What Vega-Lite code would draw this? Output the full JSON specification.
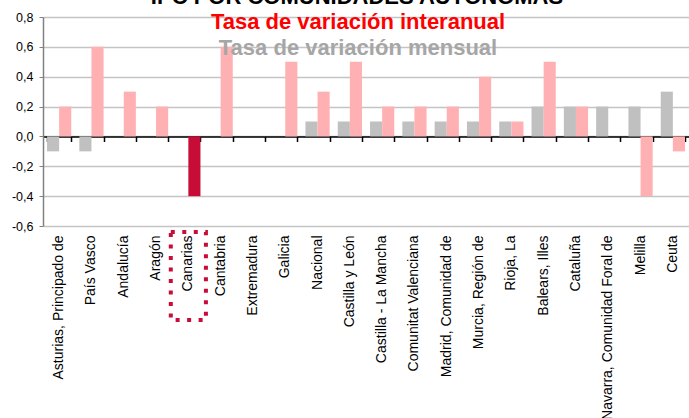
{
  "$schema": "https://vega.github.io/schema/vega-lite/v6.json",
  "width": 646,
  "height": 209,
  "autosize": "none",
  "padding": {"left": 43, "top": 17, "right": 0, "bottom": 192},
  "config": {"font": "Liberation Sans", "view": {"stroke": null}},
  "layer": [
    {
      "data": {"values": [
        {"region": "Asturias, Principado de", "serie": "Tasa de variación mensual", "valor": -0.1},
        {"region": "Asturias, Principado de", "serie": "Tasa de variación interanual", "valor": 0.2},
        {"region": "País Vasco", "serie": "Tasa de variación mensual", "valor": -0.1},
        {"region": "País Vasco", "serie": "Tasa de variación interanual", "valor": 0.6},
        {"region": "Andalucía", "serie": "Tasa de variación mensual", "valor": 0},
        {"region": "Andalucía", "serie": "Tasa de variación interanual", "valor": 0.3},
        {"region": "Aragón", "serie": "Tasa de variación mensual", "valor": 0},
        {"region": "Aragón", "serie": "Tasa de variación interanual", "valor": 0.2},
        {"region": "Canarias", "serie": "Tasa de variación mensual", "valor": 0},
        {"region": "Canarias", "serie": "Tasa de variación interanual", "valor": -0.4},
        {"region": "Cantabria", "serie": "Tasa de variación mensual", "valor": 0},
        {"region": "Cantabria", "serie": "Tasa de variación interanual", "valor": 0.6},
        {"region": "Extremadura", "serie": "Tasa de variación mensual", "valor": 0},
        {"region": "Extremadura", "serie": "Tasa de variación interanual", "valor": 0},
        {"region": "Galicia", "serie": "Tasa de variación mensual", "valor": 0},
        {"region": "Galicia", "serie": "Tasa de variación interanual", "valor": 0.5},
        {"region": "Nacional", "serie": "Tasa de variación mensual", "valor": 0.1},
        {"region": "Nacional", "serie": "Tasa de variación interanual", "valor": 0.3},
        {"region": "Castilla y León", "serie": "Tasa de variación mensual", "valor": 0.1},
        {"region": "Castilla y León", "serie": "Tasa de variación interanual", "valor": 0.5},
        {"region": "Castilla - La Mancha", "serie": "Tasa de variación mensual", "valor": 0.1},
        {"region": "Castilla - La Mancha", "serie": "Tasa de variación interanual", "valor": 0.2},
        {"region": "Comunitat Valenciana", "serie": "Tasa de variación mensual", "valor": 0.1},
        {"region": "Comunitat Valenciana", "serie": "Tasa de variación interanual", "valor": 0.2},
        {"region": "Madrid, Comunidad de", "serie": "Tasa de variación mensual", "valor": 0.1},
        {"region": "Madrid, Comunidad de", "serie": "Tasa de variación interanual", "valor": 0.2},
        {"region": "Murcia, Región de", "serie": "Tasa de variación mensual", "valor": 0.1},
        {"region": "Murcia, Región de", "serie": "Tasa de variación interanual", "valor": 0.4},
        {"region": "Rioja, La", "serie": "Tasa de variación mensual", "valor": 0.1},
        {"region": "Rioja, La", "serie": "Tasa de variación interanual", "valor": 0.1},
        {"region": "Balears, Illes", "serie": "Tasa de variación mensual", "valor": 0.2},
        {"region": "Balears, Illes", "serie": "Tasa de variación interanual", "valor": 0.5},
        {"region": "Cataluña", "serie": "Tasa de variación mensual", "valor": 0.2},
        {"region": "Cataluña", "serie": "Tasa de variación interanual", "valor": 0.2},
        {"region": "Navarra, Comunidad Foral de", "serie": "Tasa de variación mensual", "valor": 0.2},
        {"region": "Navarra, Comunidad Foral de", "serie": "Tasa de variación interanual", "valor": 0},
        {"region": "Melilla", "serie": "Tasa de variación mensual", "valor": 0.2},
        {"region": "Melilla", "serie": "Tasa de variación interanual", "valor": -0.4},
        {"region": "Ceuta", "serie": "Tasa de variación mensual", "valor": 0.3},
        {"region": "Ceuta", "serie": "Tasa de variación interanual", "valor": -0.1}
      ]},
      "mark": {"type": "bar"},
      "encoding": {
        "x": {
          "field": "region", "type": "nominal", "sort": null,
          "scale": {"domain": ["Asturias, Principado de", "País Vasco", "Andalucía", "Aragón", "Canarias", "Cantabria", "Extremadura", "Galicia", "Nacional", "Castilla y León", "Castilla - La Mancha", "Comunitat Valenciana", "Madrid, Comunidad de", "Murcia, Región de", "Rioja, La", "Balears, Illes", "Cataluña", "Navarra, Comunidad Foral de", "Melilla", "Ceuta"], "paddingInner": 0.25, "paddingOuter": 0.125},
          "axis": {"orient": "bottom", "title": null, "labelAngle": -90, "labelAlign": "right", "labelBaseline": "middle", "labelFontSize": 14, "labelColor": "#000000", "labelPadding": 9, "ticks": false, "domain": false, "grid": false, "labelLimit": 300}
        },
        "xOffset": {"field": "serie", "type": "nominal", "scale": {"domain": ["Tasa de variación mensual", "Tasa de variación interanual"], "paddingInner": 0, "paddingOuter": 0}},
        "y": {
          "field": "valor", "type": "quantitative",
          "scale": {"domain": [-0.6, 0.8], "nice": false},
          "axis": {"title": null, "values": [-0.6, -0.4, -0.2, 0, 0.2, 0.4, 0.6, 0.8], "labelOverlap": false, "labelBound": false, "labelSeparation": 0, "labelExpr": "(datum.value < 0 ? '-' : '') + replace(format(abs(datum.value), '.1f'), '.', ',')", "grid": true, "gridColor": "#c4c4c4", "gridWidth": 1.5, "domainColor": "#808080", "domainWidth": 1.5, "tickColor": "#808080", "tickSize": 4, "labelPadding": 6, "labelFontSize": 12.5, "labelColor": "#000000"}
        },
        "color": {
          "condition": {"test": "datum.region === 'Canarias' && datum.serie === 'Tasa de variación interanual'", "value": "#c80c38"},
          "field": "serie", "type": "nominal",
          "scale": {"domain": ["Tasa de variación interanual", "Tasa de variación mensual"], "range": ["#ffb0b3", "#c0c0c0"]},
          "legend": {"orient": "none", "legendX": 107, "legendY": -30, "title": "IPC POR COMUNIDADES AUTÓNOMAS", "titleFontSize": 22, "titleFontWeight": "bold", "titleColor": "#000000", "titleAlign": "center", "titleAnchor": "start", "titleBaseline": "top", "titlePadding": 2, "titleLimit": 600, "direction": "vertical", "symbolSize": 0, "symbolStrokeWidth": 0, "symbolOpacity": 0, "labelOffset": -21, "padding": 0, "labelFontSize": 22, "labelFontWeight": "bold", "labelAlign": "center", "labelLimit": 500, "rowPadding": 4,
            "encode": {"labels": {"update": {"fill": {"signal": "datum.value === 'Tasa de variación interanual' ? '#ff0000' : '#a6a6a6'"}}}}}
        }
      }
    },
    {
      "data": {"values": [{"region": "Canarias", "y1": -0.64, "y2": -1.23}]},
      "mark": {"type": "bar", "width": {"band": 1.45}, "fillOpacity": 0, "stroke": "#c80c38", "strokeWidth": 4, "strokeDash": [4, 7.5]},
      "encoding": {
        "x": {"field": "region", "type": "nominal", "sort": null,
          "axis": {"orient": "top", "offset": -119.5, "labels": false, "title": null, "domain": true, "domainColor": "#000000", "domainWidth": 1.5, "ticks": true, "tickBand": "extent", "tickSize": -5, "tickColor": "#000000", "tickWidth": 1.5, "grid": false}},
        "y": {"field": "y1", "type": "quantitative", "scale": {"domain": [-0.6, 0.8], "nice": false}, "axis": null},
        "y2": {"field": "y2"}
      }
    }
  ],
  "resolve": {"axis": {"x": "independent", "y": "independent"}}
}
